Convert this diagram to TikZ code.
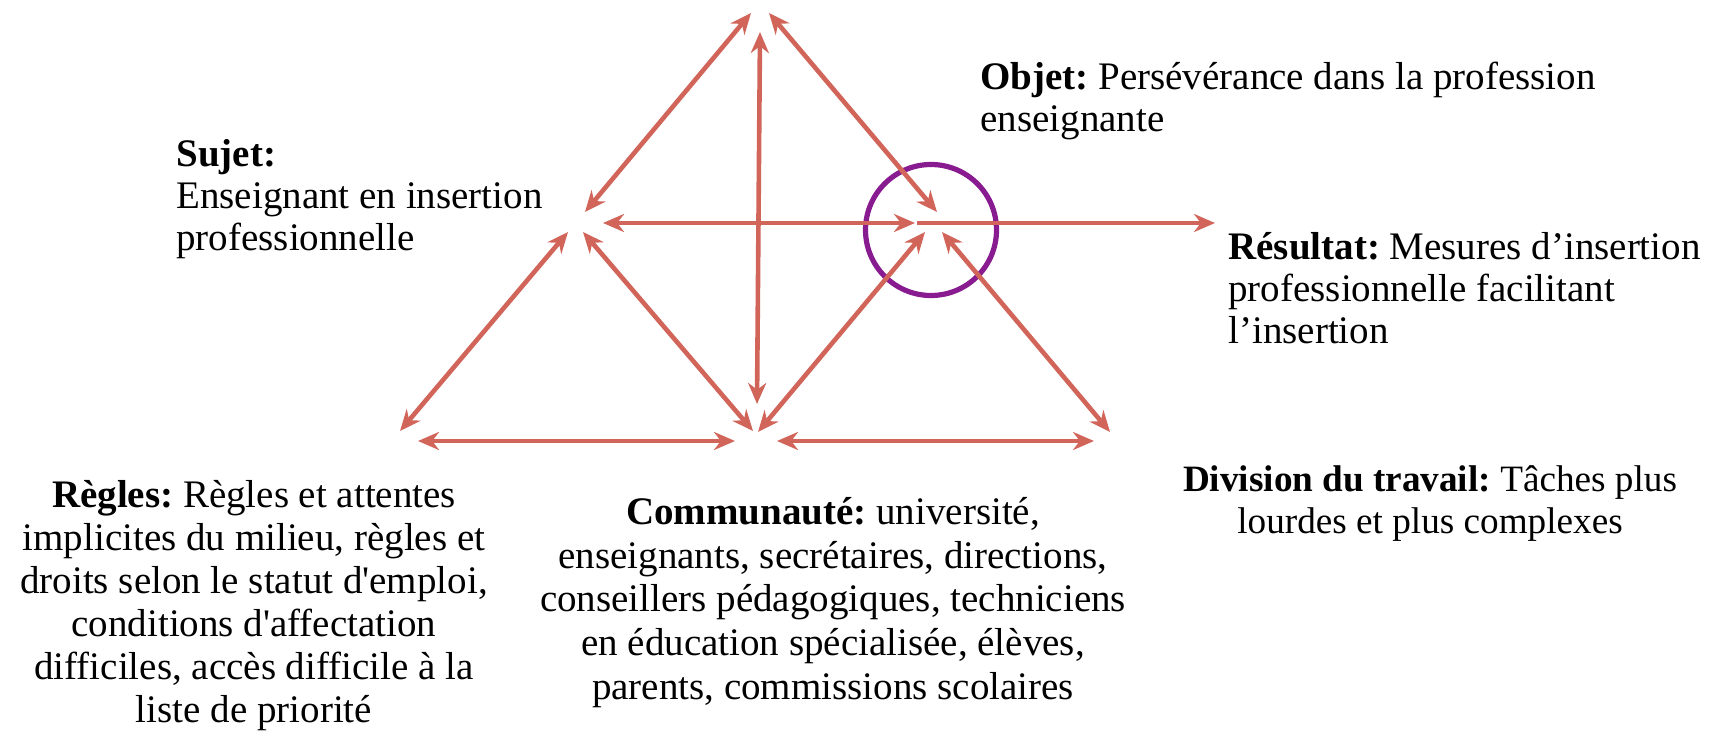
\documentclass[tikz,border=0pt]{standalone}
\usepackage{fontspec}
\setmainfont{Liberation Serif}
\usetikzlibrary{arrows.meta}
\frenchspacing
\definecolor{arrowred}{RGB}{209,101,90}
\definecolor{ringpurple}{RGB}{137,27,145}
\tikzset{
  tip/.tip={Stealth[length=10.5pt,width=9pt,inset=3.4pt]},
  link/.style={draw=arrowred, line width=2.3pt, tip-tip},
  onelink/.style={draw=arrowred, line width=2.3pt, -tip},
  ring/.style={draw=ringpurple, line width=2.6pt},
  lbl/.style={inner sep=0pt, font=\fontsize{19.5}{21}\selectfont},
  lblwide/.style={inner sep=0pt, font=\fontsize{19.5}{21.5}\selectfont},
  lblcomm/.style={inner sep=0pt, font=\fontsize{19.5}{21.8}\selectfont},
  lblsmall/.style={inner sep=0pt, font=\fontsize{18.6}{20.6}\selectfont},
}
\begin{document}
\begin{tikzpicture}[x=0.5pt,y=-0.5pt]
\useasboundingbox (0,0) rectangle (1716,731);
% end points
\coordinate (tl1) at (751,13);   \coordinate (tl2) at (585,212);
\coordinate (tr1) at (769,13);   \coordinate (tr2) at (937,212);
\coordinate (v1) at (760,32);    \coordinate (v2) at (757,404);
\coordinate (h1) at (603,223);   \coordinate (h2) at (915,223);
\coordinate (r1) at (917,223);   \coordinate (r2) at (1215,223);
\coordinate (ll1) at (568,232);  \coordinate (ll2) at (400,431);
\coordinate (lr1) at (583,232);  \coordinate (lr2) at (753,431);
\coordinate (lb1) at (418,441);  \coordinate (lb2) at (735,441);
\coordinate (rl1) at (925,232);  \coordinate (rl2) at (758,432);
\coordinate (rr1) at (942,232);  \coordinate (rr2) at (1110,432);
\coordinate (rb1) at (777,441);  \coordinate (rb2) at (1094,441);
\coordinate (cc) at (931,230);
% circle
\draw[ring] (cc) circle[radius=65.5];
% connectors
\draw[link] (tl1) -- (tl2);
\draw[link] (tr1) -- (tr2);
\draw[link] (v1) -- (v2);
\draw[link] (h1) -- (h2);
\draw[onelink] (r1) -- (r2);
\draw[link] (ll1) -- (ll2);
\draw[link] (lr1) -- (lr2);
\draw[link] (lb1) -- (lb2);
\draw[link] (rl1) -- (rl2);
\draw[link] (rr1) -- (rr2);
\draw[link] (rb1) -- (rb2);
% labels (anchored at the baseline of their last line)
\node[lbl, anchor=base west, align=left] (sujet) at (176,251)
  {\textbf{Sujet:}\\Enseignant en insertion\\professionnelle};
\node[lbl, anchor=base west, align=left] (objet) at (980,132)
  {\textbf{Objet:} Persévérance dans la profession\\enseignante};
\node[lbl, anchor=base west, align=left] (resultat) at (1228,343.5)
  {\textbf{Résultat:} Mesures d’insertion\\professionnelle facilitant\\l’insertion};
\node[lblwide, anchor=base, align=center] (regles) at (254,722)
  {\textbf{Règles:} Règles et attentes\\implicites du milieu, règles et\\droits selon le statut d\textquotesingle emploi,\\conditions d\textquotesingle affectation\\difficiles, accès difficile à la\\liste de priorité};
\node[lblcomm, anchor=base, align=center] (commu) at (833,699)
  {\textbf{Communauté:} université,\\enseignants, secrétaires, directions,\\conseillers pédagogiques, techniciens\\en éducation spécialisée, élèves,\\parents, commissions scolaires};
\node[lblsmall, anchor=base, align=center] (division) at (1430,533)
  {\textbf{Division du travail:} Tâches plus\\lourdes et plus complexes};
\end{tikzpicture}
\end{document}
